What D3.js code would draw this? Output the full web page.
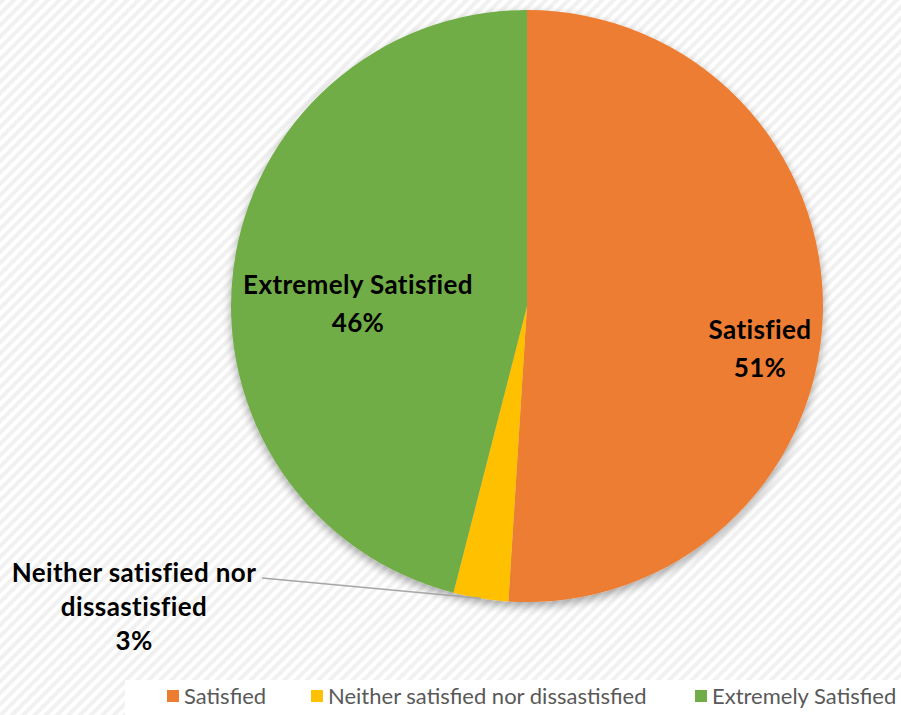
<!DOCTYPE html>
<html>
<head>
<meta charset="utf-8">
<script src="https://cdn.jsdelivr.net/npm/d3@7"></script>
<style>
  html, body { margin: 0; padding: 0; background: #fff; }
  svg { display: block; }
</style>
</head>
<body>
<svg id="chart" width="901" height="715"></svg>
<script>
// Satisfaction survey breakdown
const categories = ["Satisfied", "Neither satisfied nor dissastisfied", "Extremely Satisfied"];
const legendLabels = ["Satisfied", "Neither satisfied nor dissastisfied", "Extremely Satisfied"];
const values = [51, 3, 46];
const colors = ["#ED7D31", "#FFC000", "#70AD47"];

const svg = d3.select("#chart");
const W = 901, H = 715;
const cx = 527, cy = 306, R = 296;

const defs = svg.append("defs");
// diagonal stripe background
const pat = defs.append("pattern")
  .attr("id", "stripes")
  .attr("patternUnits", "userSpaceOnUse")
  .attr("width", 8).attr("height", 8)
  .attr("patternTransform", "rotate(45)");
pat.append("rect").attr("width", 8).attr("height", 8).attr("fill", "#ffffff");
pat.append("rect").attr("width", 4).attr("height", 8).attr("fill", "#f1f1f1");

const shadow = defs.append("filter").attr("id", "shadow")
  .attr("x", "-20%").attr("y", "-20%").attr("width", "140%").attr("height", "140%");
shadow.append("feGaussianBlur").attr("in", "SourceAlpha").attr("stdDeviation", 5).attr("result", "b");
shadow.append("feOffset").attr("in", "b").attr("dx", 0).attr("dy", 4).attr("result", "o");
shadow.append("feComponentTransfer").attr("in", "o").attr("result", "s")
  .append("feFuncA").attr("type", "linear").attr("slope", 0.35);
const merge = shadow.append("feMerge");
merge.append("feMergeNode").attr("in", "s");
merge.append("feMergeNode").attr("in", "SourceGraphic");

svg.append("rect").attr("width", W).attr("height", H).attr("fill", "url(#stripes)");

const pie = d3.pie().value(d => d).sort(null);
const arcs = pie(values);
const arc = d3.arc().innerRadius(0).outerRadius(R);

const g = svg.append("g").attr("transform", `translate(${cx},${cy})`);
g.append("g").attr("filter", "url(#shadow)")
  .selectAll("path").data(arcs).join("path")
  .attr("d", arc)
  .attr("fill", (d, i) => colors[i]);

const font = "Lato, 'Open Sans', sans-serif";
const pct = d3.format(".0%");

// in-slice labels
const inside = [
  { i: 0, x: 760, y: 349 },
  { i: 2, x: 358, y: 304 }
];
inside.forEach(o => {
  const t = svg.append("text")
    .attr("text-anchor", "middle")
    .attr("font-family", font).attr("font-weight", "bold")
    .attr("font-size", 26).attr("letter-spacing", 0.4).attr("fill", "#000");
  t.append("tspan").attr("x", o.x).attr("y", o.y - 10).text(categories[o.i]);
  t.append("tspan").attr("x", o.x).attr("y", o.y + 28).text(pct(values[o.i] / 100));
});

// outside label with leader line for the small slice
const small = arcs[1];
const mid = (small.startAngle + small.endAngle) / 2;
const px = Math.sin(mid) * R, py = -Math.cos(mid) * R;
g.append("polyline")
  .attr("points", [[px, py], [262 - cx, 578 - cy]].map(p => p.join(",")).join(" "))
  .attr("fill", "none").attr("stroke", "#a6a6a6").attr("stroke-width", 1.5);
const ot = svg.append("text")
  .attr("text-anchor", "middle")
  .attr("font-family", font).attr("font-weight", "bold")
  .attr("font-size", 26).attr("letter-spacing", 0.4).attr("fill", "#000");
ot.append("tspan").attr("x", 134).attr("y", 582).text("Neither satisfied nor");
ot.append("tspan").attr("x", 134).attr("y", 616).text("dissastisfied");
ot.append("tspan").attr("x", 134).attr("y", 650).text(pct(values[1] / 100));

// legend
svg.append("rect").attr("x", 125).attr("y", 680).attr("width", W - 125).attr("height", H - 680)
  .attr("fill", "#ffffff");
const legX = [167, 311, 695];
const lg = svg.append("g");
legendLabels.forEach((name, i) => {
  lg.append("rect").attr("x", legX[i]).attr("y", 690).attr("width", 12).attr("height", 12)
    .attr("fill", colors[i]);
  lg.append("text").attr("x", legX[i] + 17).attr("y", 704)
    .attr("font-family", font).attr("font-size", 22).attr("fill", "#595959")
    .text(name);
});
</script>
</body>
</html>
